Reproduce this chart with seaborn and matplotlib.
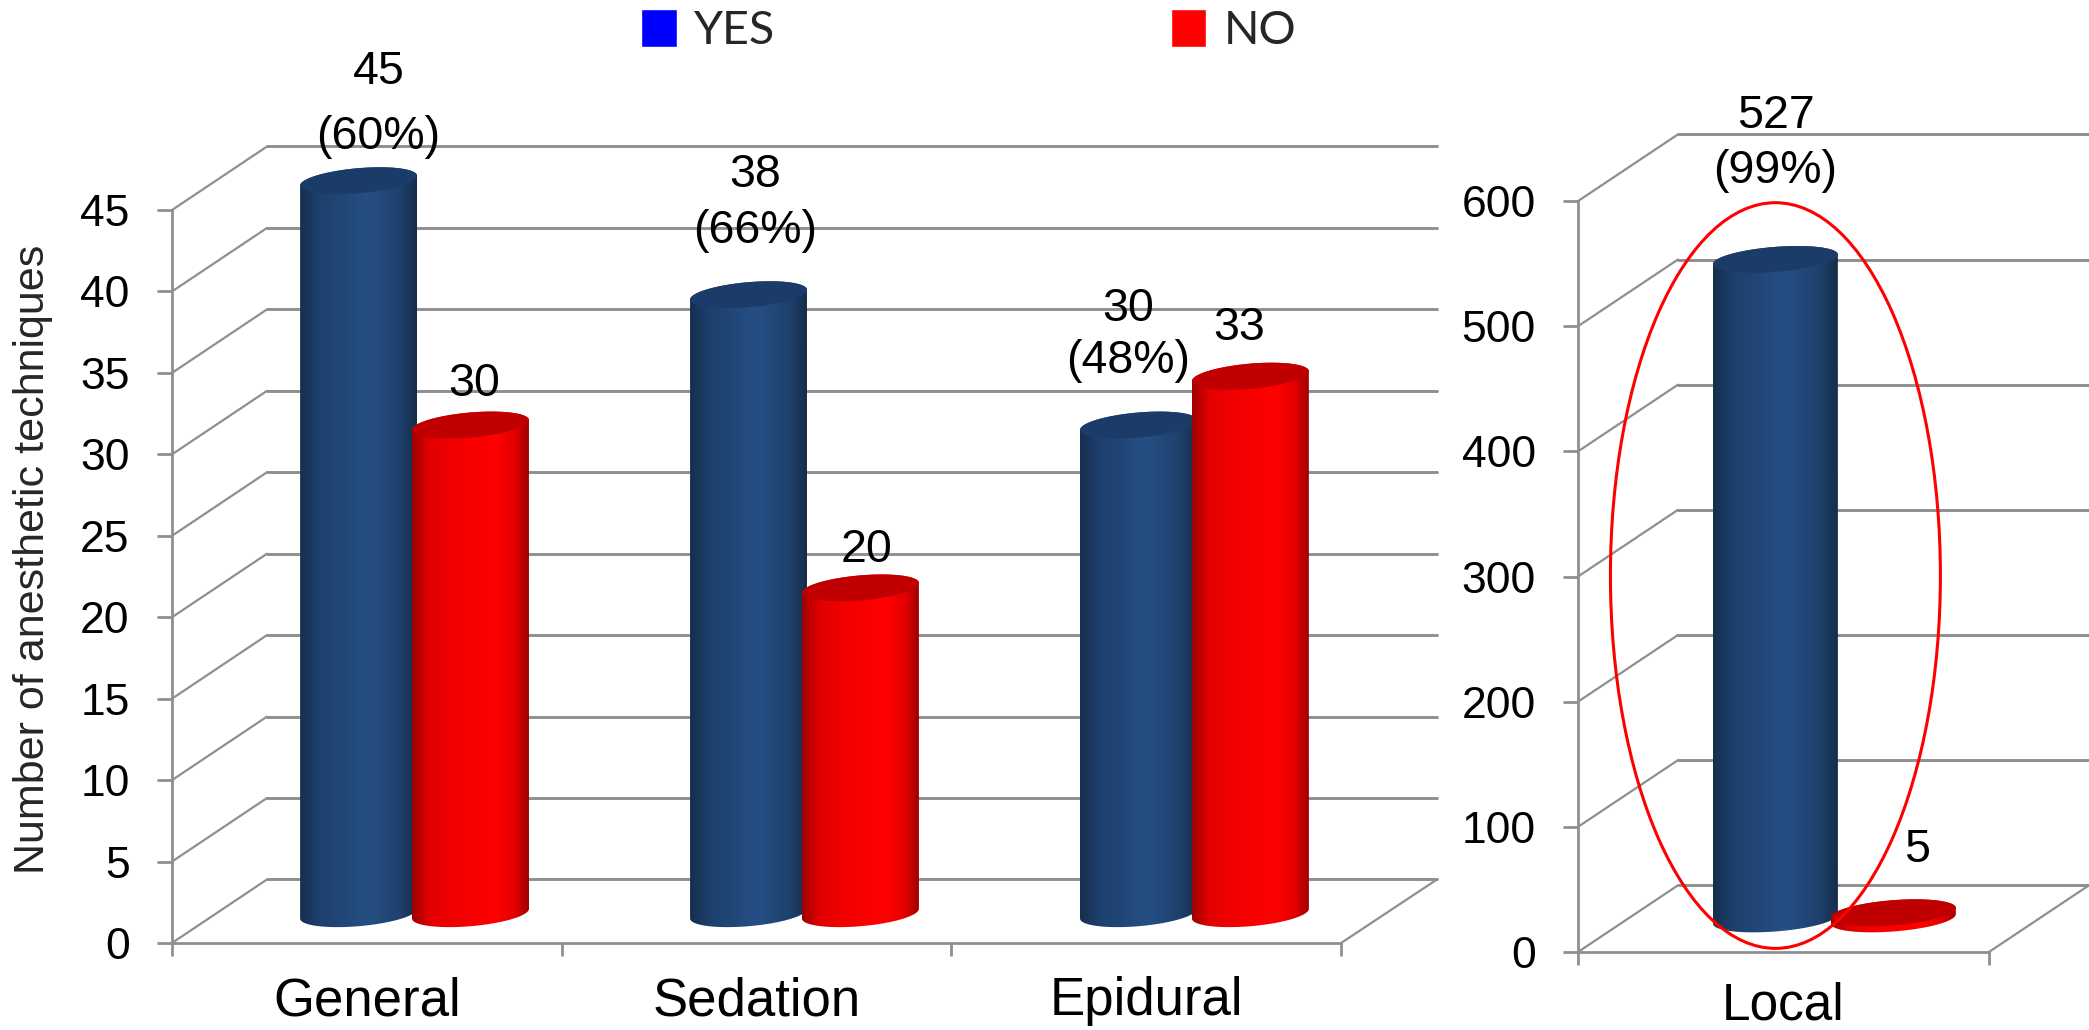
import numpy as np
import pandas as pd
import matplotlib
matplotlib.use("Agg")
import matplotlib.pyplot as plt
import seaborn as sns
from matplotlib.colors import LinearSegmentedColormap
from matplotlib.patches import Ellipse, Patch, PathPatch, Polygon
from matplotlib.path import Path

# Counts of anesthetic techniques by answer
main_categories = ["General", "Sedation", "Epidural"]
main_yes = [45, 38, 30]
main_no = [30, 20, 33]
main_yes_pct = ["60%", "66%", "48%"]
main_ticks = [0, 5, 10, 15, 20, 25, 30, 35, 40, 45]

local_categories = ["Local"]
local_yes = [527]
local_no = [5]
local_yes_pct = ["99%"]
local_ticks = [0, 100, 200, 300, 400, 500, 600]

answers = ["YES", "NO"]
y_title = "Number of anesthetic techniques"

FIG_W, FIG_H, DPI = 2089, 1030, 100
GRID = "#8f8f8f"
TEXT_FONT = "Liberation Sans"

sns.set_style("white")
plt.rcParams["font.family"] = [TEXT_FONT, "DejaVu Sans"]

blue_shade = LinearSegmentedColormap.from_list(
    "blue_cyl", [(0, "#152e4e"), (0.15, "#1d3f6b"), (0.58, "#254f84"),
                 (0.85, "#1e416d"), (1, "#152d4a")])
red_shade = LinearSegmentedColormap.from_list(
    "red_cyl", [(0, "#9c0000"), (0.14, "#e00000"), (0.35, "#f20000"),
                (0.72, "#ff0000"), (0.88, "#e40000"), (1, "#a00000")])
SHADES = {"YES": (blue_shade, "#1b3c68"), "NO": (red_shade, "#c00000")}

fig = plt.figure(figsize=(FIG_W / DPI, FIG_H / DPI), dpi=DPI)


def axes_from_pixels(left, right, top, bottom):
    return fig.add_axes([left / FIG_W, 1 - bottom / FIG_H,
                         (right - left) / FIG_W, (bottom - top) / FIG_H],
                        facecolor="none")


def ellipse_points(cx, cy, a, b, theta, sx, sy, t):
    """Points of a tilted ellipse; a, b are in pixels, the centre in data units."""
    dx = a * np.cos(t) * np.cos(theta) - b * np.sin(t) * np.sin(theta)
    dy = a * np.cos(t) * np.sin(theta) + b * np.sin(t) * np.cos(theta)
    return np.column_stack([cx + dx / sx, cy + dy / sy])


def draw_cylinder(ax, rect, answer, tilt_deg, sx, sy, zorder):
    """Shade one seaborn bar as an upright cylinder."""
    cmap, cap_color = SHADES[answer]
    x0 = rect.get_x()
    w = rect.get_width()
    base = rect.get_y()
    top = base + rect.get_height()
    cx = x0 + w / 2
    theta = np.deg2rad(tilt_deg)
    b = 12.5
    half_px = w * sx / 2
    a = np.sqrt(max(half_px ** 2 - (b * np.sin(theta)) ** 2, 1)) / np.cos(theta)
    t0 = np.arctan2(-b * np.sin(theta), a * np.cos(theta))

    lower = ellipse_points(cx, base, a, b, theta, sx, sy,
                           np.linspace(t0 + np.pi, t0 + 2 * np.pi, 80))
    upper = ellipse_points(cx, top, a, b, theta, sx, sy,
                           np.linspace(t0, t0 + np.pi, 80))
    outline = np.vstack([lower, upper, lower[:1]])
    body = PathPatch(Path(outline), transform=ax.transData, facecolor="none",
                     edgecolor="none", zorder=zorder)
    ax.add_patch(body)
    gradient = ax.imshow(np.linspace(0, 1, 256)[None, :], cmap=cmap, aspect="auto",
                         origin="lower", interpolation="bilinear",
                         extent=[x0, x0 + w, base - 20 / sy, top + 20 / sy],
                         zorder=zorder)
    gradient.set_clip_path(body)
    cap = ellipse_points(cx, top, a, b, theta, sx, sy, np.linspace(0, 2 * np.pi, 160))
    ax.add_patch(Polygon(cap, closed=True, facecolor=cap_color, edgecolor="none",
                         zorder=zorder + 0.1))


def draw_panel(ax, categories, yes, no, ticks, x_limits, y_top, depth_x, depth_y,
               floor_end, base, width, gap, tilt_deg, back_end, cat_size, cat_pad):
    frame = pd.DataFrame({
        "technique": categories * 2,
        "answer": [answers[0]] * len(yes) + [answers[1]] * len(no),
        "count": list(yes) + list(no),
    })
    sns.barplot(data=frame, x="technique", y="count", hue="answer",
                order=categories, hue_order=answers, width=width, gap=gap,
                errorbar=None, legend=False, bottom=base, ax=ax)
    ax.set_xlim(*x_limits)
    ax.set_ylim(0, y_top)
    sx = ax.bbox.width / (x_limits[1] - x_limits[0])
    sy = ax.bbox.height / y_top

    # Wall and floor of the box
    line = dict(color=GRID, lw=2.1, clip_on=False, zorder=1, solid_capstyle="round")
    left = x_limits[0]
    for tick in ticks:
        ax.plot([left, left + depth_x], [tick, tick + depth_y], **{**line, "lw": 1.6})
        ax.plot([left + depth_x, back_end], [tick + depth_y] * 2, **line)
    ax.plot([floor_end, back_end], [0, depth_y], **{**line, "lw": 1.6})

    for side in ("top", "right"):
        ax.spines[side].set_visible(False)
    for side in ("left", "bottom"):
        ax.spines[side].set_color(GRID)
        ax.spines[side].set_linewidth(2.0)
    ax.spines["left"].set_bounds(0, ticks[-1])
    ax.spines["bottom"].set_bounds(left, floor_end)

    edges = np.linspace(left, floor_end, len(categories) + 1)
    ax.set_yticks(ticks)
    ax.set_xticks(edges)
    ax.set_xticklabels([])
    ax.set_xticks((edges[:-1] + edges[1:]) / 2, minor=True)
    ax.set_xticklabels(categories, minor=True, fontsize=cat_size)
    ax.tick_params(axis="y", left=True, length=10.5, width=2.0, color=GRID,
                   labelsize=32, pad=20, labelcolor="black")
    ax.tick_params(axis="x", which="major", bottom=True, length=9, width=2.0, color=GRID)
    ax.tick_params(axis="x", which="minor", bottom=False, length=0, pad=cat_pad,
                   labelcolor="black")
    ax.set_xlabel("")
    ax.set_ylabel("")

    # Seaborn's bars give the geometry; each is then drawn as a cylinder
    bars = list(ax.patches)
    n = len(categories)
    for i, rect in enumerate(bars):
        answer = answers[0] if i < n else answers[1]
        rect.set_visible(False)
        draw_cylinder(ax, rect, answer, tilt_deg, sx, sy, 3 if i < n else 4)
    ax.set_xlim(*x_limits)
    ax.set_ylim(0, y_top)
    return bars


def value_label(ax, rect, text, dx, dy, spacing=1.2):
    ax.annotate(text, xy=(rect.get_x() + rect.get_width() / 2, rect.get_y() + rect.get_height()),
                xytext=(dx, dy), textcoords="offset pixels", ha="center", va="center",
                fontsize=33.5, color="black", linespacing=spacing,
                annotation_clip=False, zorder=8)


# Main panel: general, sedation and epidural
ax_main = axes_from_pixels(172, 1437, 146.5, 943)
main_bars = draw_panel(ax_main, main_categories, main_yes, main_no, main_ticks,
                       x_limits=(-0.622, 2.622), y_top=48.9, depth_x=0.2436, depth_y=3.9,
                       floor_end=2.376, base=1.8, width=0.574, gap=-0.045,
                       tilt_deg=5, back_end=2.622, cat_size=38, cat_pad=24)
ax_main.set_ylabel(y_title, fontsize=31)
ax_main.yaxis.set_label_coords((53 - 172) / (1437 - 172), (943 - 559) / (943 - 146.5))

yes_offsets = [(20, 76, 1.62), (7, 92, 1.36), (-10, 90, 1.24)]
no_offsets = [(4, 41), (6, 38), (-11, 48)]
for i, rect in enumerate(main_bars[:3]):
    dx, dy, spacing = yes_offsets[i]
    value_label(ax_main, rect, f"{main_yes[i]}\n({main_yes_pct[i]})", dx, dy, spacing)
for i, rect in enumerate(main_bars[3:]):
    dx, dy = no_offsets[i]
    value_label(ax_main, rect, f"{main_no[i]}", dx, dy)

# Side panel on its own scale: local anesthesia
ax_local = axes_from_pixels(1578, 2089, 134, 952)
local_bars = draw_panel(ax_local, local_categories, local_yes, local_no, local_ticks,
                        x_limits=(-0.624, 0.6195), y_top=653.6, depth_x=0.2433, depth_y=53.3,
                        floor_end=0.376, base=26.4, width=0.574, gap=-0.059,
                        tilt_deg=4.5, back_end=0.6195, cat_size=37, cat_pad=21.5)
value_label(ax_local, local_bars[0], f"{local_yes[0]}\n({local_yes_pct[0]})", 0, 115.7, 1.32)
value_label(ax_local, local_bars[1], f"{local_no[0]}", 24, 63)

# Ring drawing attention to the local anesthesia bars
ax_local.add_patch(Ellipse((-0.1436, 300.8), width=0.803, height=595.8, fill=False,
                           edgecolor="#ff0000", lw=2.2, clip_on=False, zorder=7))

# Legend across the top
fig.legend(handles=[Patch(facecolor="#0000ff", label=answers[0]),
                    Patch(facecolor="#ff0000", label=answers[1])],
           ncol=2, frameon=False, loc="upper left", bbox_to_anchor=(632 / FIG_W, 1.0),
           prop={"family": "Lato", "size": 33.5}, handlelength=0.76,
           handleheight=0.87, handletextpad=0.38, columnspacing=8.5, borderpad=0.2,
           borderaxespad=0)

fig.savefig("out.png", dpi=DPI)
